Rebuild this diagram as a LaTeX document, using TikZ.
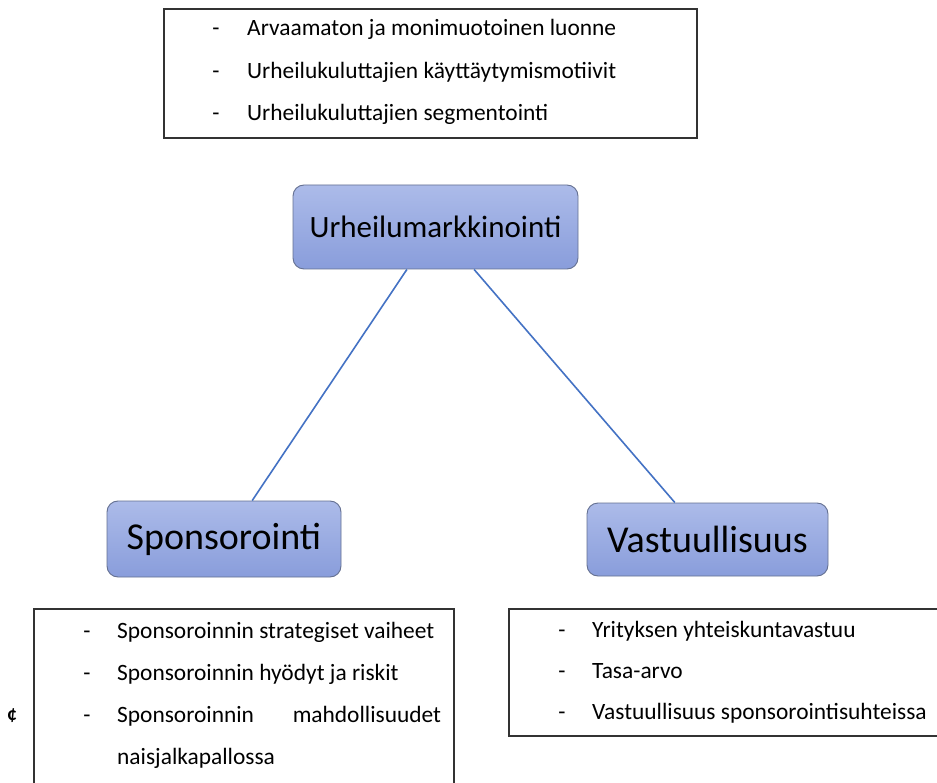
\documentclass[tikz,border=0pt]{standalone}
\usepackage{fontspec}
\setmainfont{Carlito}
\usetikzlibrary{calc}
\definecolor{topictop}{RGB}{172,187,233}
\definecolor{topicbottom}{RGB}{137,157,219}
\definecolor{topicline}{RGB}{100,112,145}
\definecolor{linkblue}{RGB}{68,114,196}
\tikzset{
	topic/.style={draw=topicline, line width=0.9pt, rounded corners=11pt, top color=topictop, bottom color=topicbottom, inner sep=0pt, text=black},
	link/.style={draw=linkblue, line width=1.6pt},
	listbox/.style={draw=black!80, line width=1.3pt},
	item/.style={anchor=base west, inner sep=0pt, text=black, font=\fontsize{23.4}{28}\selectfont},
	itemdash/.style={anchor=base, inner sep=0pt, text=black, font=\fontsize{23.4}{28}\selectfont}
}

\begin{document}
\begin{tikzpicture}[x=1pt, y=-1pt]
			%%%%% START %%%%%
			\useasboundingbox[fill=white] (0, 0) rectangle (937, 783);
			
			% upper list
			\draw[listbox] (164, 9) rectangle (697, 138);
			\node[itemdash] (ud1) at (216, 36) {-};
			\node[item] (ut1) at (247, 36) {Arvaamaton ja monimuotoinen luonne};
			\node[itemdash] (ud2) at (216, 78.5) {-};
			\node[item] (ut2) at (247, 78.5) {Urheilukuluttajien käyttäytymismotiivit};
			\node[itemdash] (ud3) at (216, 121) {-};
			\node[item] (ut3) at (247, 121) {Urheilukuluttajien segmentointi};
			
			% topics
			\node[topic, minimum width=285pt, minimum height=84pt, font=\fontsize{31}{36}\selectfont] (urheilu) at (435.5, 227) {Urheilumarkkinointi};
			\node[topic, minimum width=234pt, minimum height=76pt, font=\fontsize{38}{44}\selectfont] (sponsor) at (224, 539) {Sponsorointi};
			\node[topic, minimum width=241pt, minimum height=73pt, font=\fontsize{38}{44}\selectfont] (vastuu) at (707.5, 539.5) {Vastuullisuus};
			
			\draw[link] ($(urheilu.south west)!0.40!(urheilu.south east)$) -- ($(sponsor.north west)!0.62!(sponsor.north east)$);
			\draw[link] ($(urheilu.south west)!0.635!(urheilu.south east)$) -- ($(vastuu.north west)!0.365!(vastuu.north east)$);
			
			% left list
			\draw[listbox] (34, 785) -- (34, 609) -- (454, 609) -- (454, 785);
			\node[itemdash] (ld1) at (87, 638) {-};
			\node[item] (lt1) at (117, 638) {Sponsoroinnin strategiset vaiheet};
			\node[itemdash] (ld2) at (87, 680) {-};
			\node[item] (lt2) at (117, 680) {Sponsoroinnin hyödyt ja riskit};
			\node[itemdash] (ld3) at (87, 722) {-};
			\node[item] (lt3) at (117, 722) {\makebox[324pt][s]{Sponsoroinnin\hfill mahdollisuudet}};
			\node[item] (lt4) at (117, 764) {naisjalkapallossa};
			\node[itemdash, font=\fontsize{20}{24}\selectfont\bfseries] (cent) at (12, 720) {¢};
			
			% right list
			\draw[listbox] (940, 609) -- (509, 609) -- (509, 736) -- (940, 736);
			\node[itemdash] (rd1) at (562, 637) {-};
			\node[item] (rt1) at (592, 637) {Yrityksen yhteiskuntavastuu};
			\node[itemdash] (rd2) at (562, 678) {-};
			\node[item] (rt2) at (592, 678) {Tasa-arvo};
			\node[itemdash] (rd3) at (562, 719) {-};
			\node[item] (rt3) at (592, 719) {Vastuullisuus sponsorointisuhteissa};
			%%%%% END %%%%%
\end{tikzpicture}
\end{document}
